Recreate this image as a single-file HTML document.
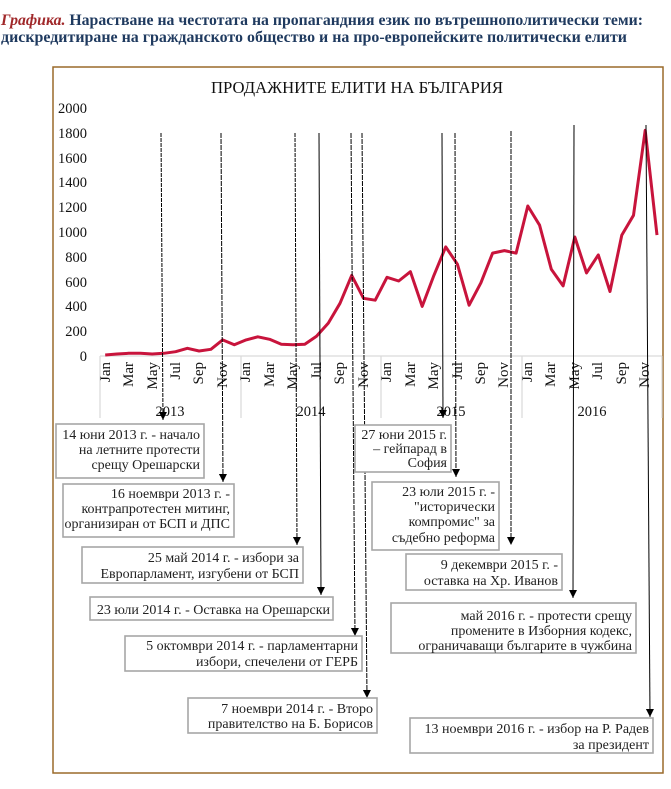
<!DOCTYPE html>
<html><head><meta charset="utf-8"><style>
body{margin:0;background:#fff;width:671px;height:789px;overflow:hidden}
svg{display:block}
.h{font-family:"Liberation Serif",serif;font-weight:bold;font-size:15.5px;fill:#1f3a5f}
.t{font-family:"Liberation Serif",serif;font-size:14px;fill:#222}
.ax{font-family:"Liberation Serif",serif;font-size:14.5px;fill:#111}
.m{font-family:"Liberation Serif",serif;font-size:15px;fill:#111}
.bx{fill:#fff;stroke:#a6a6a6;stroke-width:1.6}
.ln{stroke:#000;stroke-width:1}
</style></head><body>
<svg width="671" height="789" viewBox="0 0 671 789" xmlns="http://www.w3.org/2000/svg">
<defs>
<marker id="a2" viewBox="0 0 8 8" markerWidth="8" markerHeight="8" refX="8" refY="4" orient="auto" markerUnits="userSpaceOnUse"><path d="M0,0 L8,4 L0,8 Z" fill="#000"/></marker></defs>
<text x="1" y="25" class="h" textLength="642" lengthAdjust="spacingAndGlyphs"><tspan fill="#a0282a" font-style="italic" font-weight="bold">Графика.</tspan> Нарастване на честотата на пропагандния език по вътрешнополитически теми:</text>
<text x="1" y="42" class="h" textLength="626" lengthAdjust="spacingAndGlyphs">дискредитиране на гражданското общество и на про-европейските политически елити</text>
<rect x="53" y="67" width="610" height="706" fill="#fff" stroke="#9a6a2a" stroke-width="1.5"/>
<text x="357" y="93" text-anchor="middle" font-family="Liberation Serif,serif" font-size="17px" fill="#111" textLength="292" lengthAdjust="spacingAndGlyphs">ПРОДАЖНИТЕ ЕЛИТИ НА БЪЛГАРИЯ</text>
<g class="ax" text-anchor="end">
<text x="87" y="113">2000</text><text x="87" y="138">1800</text><text x="87" y="163">1600</text><text x="87" y="187">1400</text><text x="87" y="212">1200</text><text x="87" y="237">1000</text><text x="87" y="262">800</text><text x="87" y="287">600</text><text x="87" y="311">400</text><text x="87" y="336">200</text><text x="87" y="361">0</text>
</g>
<line x1="100" y1="356" x2="662" y2="356" stroke="#d9d9d9" stroke-width="1.2"/>
<g stroke="#d9d9d9" stroke-width="1.2"><line x1="100" y1="356" x2="100" y2="418"/><line x1="241" y1="356" x2="241" y2="418"/><line x1="381" y1="356" x2="381" y2="418"/><line x1="522" y1="356" x2="522" y2="418"/><line x1="662" y1="356" x2="662" y2="418"/></g>
<g class="m" text-anchor="end">
<text transform="translate(110,362) rotate(-90)">Jan</text><text transform="translate(133,362) rotate(-90)">Mar</text><text transform="translate(157,362) rotate(-90)">May</text><text transform="translate(180,362) rotate(-90)">Jul</text><text transform="translate(203,362) rotate(-90)">Sep</text><text transform="translate(227,362) rotate(-90)">Nov</text>
<text transform="translate(250,362) rotate(-90)">Jan</text><text transform="translate(274,362) rotate(-90)">Mar</text><text transform="translate(297,362) rotate(-90)">May</text><text transform="translate(321,362) rotate(-90)">Jul</text><text transform="translate(344,362) rotate(-90)">Sep</text><text transform="translate(368,362) rotate(-90)">Nov</text>
<text transform="translate(391,362) rotate(-90)">Jan</text><text transform="translate(415,362) rotate(-90)">Mar</text><text transform="translate(438,362) rotate(-90)">May</text><text transform="translate(462,362) rotate(-90)">Jul</text><text transform="translate(485,362) rotate(-90)">Sep</text><text transform="translate(508,362) rotate(-90)">Nov</text>
<text transform="translate(532,362) rotate(-90)">Jan</text><text transform="translate(555,362) rotate(-90)">Mar</text><text transform="translate(579,362) rotate(-90)">May</text><text transform="translate(602,362) rotate(-90)">Jul</text><text transform="translate(626,362) rotate(-90)">Sep</text><text transform="translate(649,362) rotate(-90)">Nov</text>
</g>
<g class="ax" text-anchor="middle"><text x="170" y="416">2013</text><text x="311" y="416">2014</text><text x="451" y="416">2015</text><text x="592" y="416">2016</text></g>
<polyline fill="none" stroke="#c8143c" stroke-width="3" stroke-linejoin="round" points="105.2,355 116.9,354 128.7,353.3 140.4,353.3 152.2,354 163.9,353.3 175.6,351.7 187.4,348.3 199.1,351 210.9,349.3 222.6,339.9 234.3,344.8 246.1,339.9 257.8,336.8 269.6,339.3 281.3,344.2 293,344.8 304.8,344.2 316.5,336.2 328.3,323.1 340,303.3 351.7,275.4 363.5,298.3 375.2,300.2 387,277.3 398.7,281 410.4,271.7 422.2,306.4 433.9,275.4 445.7,246.9 457.4,264.2 469.1,305.2 480.9,282.8 492.6,253.1 504.4,250.6 516.1,253.1 527.8,206 539.6,225.2 551.3,269.2 563.1,285.9 574.8,237 586.5,272.9 598.3,254.9 610,291.5 621.8,235.1 633.5,215.3 645.2,130.3 657,235.1"/>
<g class="ln">
<line x1="161" y1="133" x2="163" y2="420" stroke-dasharray="4,1" marker-end="url(#a2)"/>
<line x1="221" y1="133" x2="223" y2="482" stroke-dasharray="5,1" marker-end="url(#a2)"/>
<line x1="295" y1="133" x2="297" y2="545" stroke-dasharray="4,1" marker-end="url(#a2)"/>
<line x1="319" y1="133" x2="321" y2="595" marker-end="url(#a2)"/>
<line x1="351" y1="133" x2="355" y2="636" stroke-dasharray="5,1" marker-end="url(#a2)"/>
<line x1="362" y1="133" x2="367" y2="698" stroke-dasharray="5,1" marker-end="url(#a2)"/>
<line x1="442" y1="133" x2="443" y2="418" marker-end="url(#a2)"/>
<line x1="455" y1="133" x2="456" y2="477" stroke-dasharray="5,1" marker-end="url(#a2)"/>
<line x1="511" y1="131" x2="511" y2="545" stroke-dasharray="5,1" marker-end="url(#a2)"/>
<line x1="574" y1="125" x2="573" y2="598" marker-end="url(#a2)"/>
<line x1="646" y1="125" x2="650" y2="717" marker-end="url(#a2)"/>
</g>
<g class="t" text-anchor="end">
<rect class="bx" x="56" y="424" width="148" height="54"/>
<text x="200" y="439">14 юни 2013 г. - начало</text><text x="200" y="454">на летните протести</text><text x="200" y="469">срещу Орешарски</text>
<rect class="bx" x="63" y="484" width="171" height="53"/>
<text x="230" y="498">16 ноември 2013 г. -</text><text x="230" y="513">контрапротестен митинг,</text><text x="230" y="528">организиран от БСП и ДПС</text>
<rect class="bx" x="82" y="547" width="221" height="36"/>
<text x="299" y="562">25 май 2014 г. - избори за</text><text x="299" y="578">Европарламент, изгубени от БСП</text>
<rect class="bx" x="90" y="597" width="243" height="23"/>
<text x="330" y="614">23 юли 2014 г. - Оставка на Орешарски</text>
<rect class="bx" x="125" y="636" width="237" height="35"/>
<text x="358" y="650">5 октомври 2014 г. - парламентарни</text><text x="358" y="666">избори, спечелени от ГЕРБ</text>
<rect class="bx" x="188" y="698" width="189" height="35"/>
<text x="373" y="713">7 ноември 2014 г. - Второ</text><text x="373" y="728">правителство на Б. Борисов</text>
<rect class="bx" x="355" y="425" width="96" height="47"/>
<text x="447" y="439">27 юни 2015 г.</text><text x="447" y="453">– гейпарад в</text><text x="447" y="467">София</text>
<rect class="bx" x="372" y="482" width="127" height="68"/>
<text x="495" y="496">23 юли 2015 г. -</text><text x="495" y="511">"исторически</text><text x="495" y="526">компромис"  за</text><text x="495" y="542">съдебно реформа</text>
<rect class="bx" x="406" y="554" width="156" height="36"/>
<text x="558" y="569">9 декември 2015 г. -</text><text x="558" y="585">оставка на  Хр. Иванов</text>
<rect class="bx" x="391" y="603" width="245" height="50"/>
<text x="632" y="620">май 2016 г. - протести срещу</text><text x="632" y="635">промените в Изборния кодекс,</text><text x="632" y="650">ограничаващи българите в чужбина</text>
<rect class="bx" x="410" y="718" width="243" height="35"/>
<text x="649" y="733">13 ноември 2016 г. - избор на Р. Радев</text><text x="649" y="749">за президент</text>
</g>
</svg>
</body></html>
